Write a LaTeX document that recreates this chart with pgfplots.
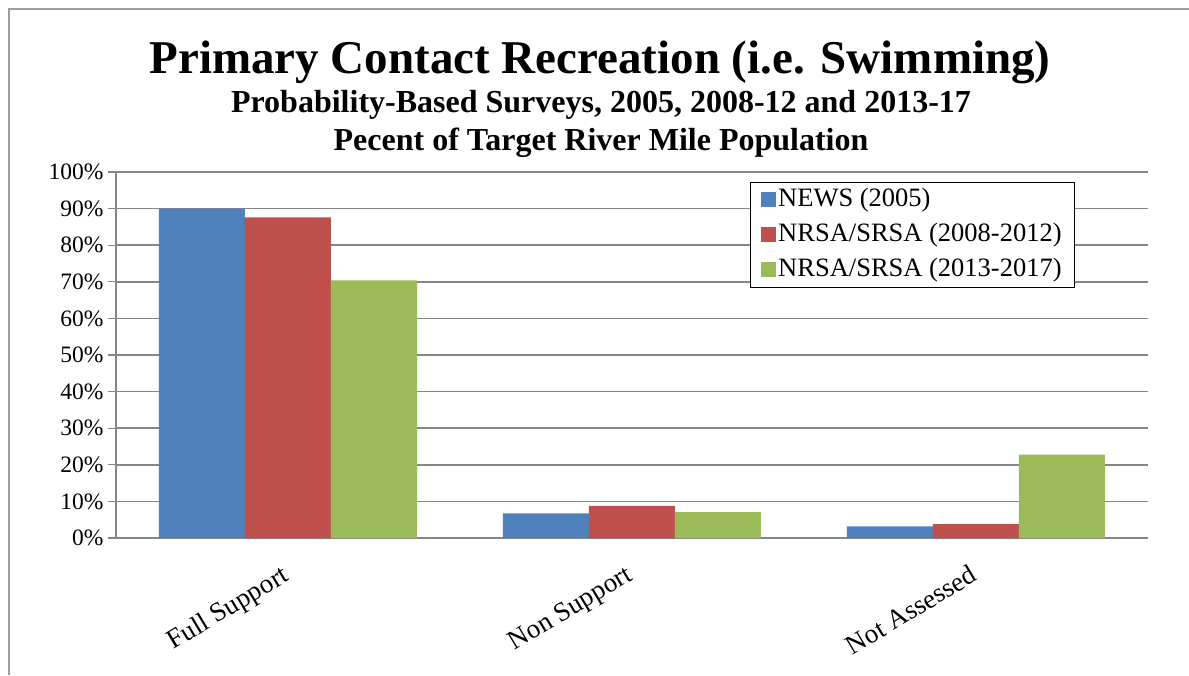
\documentclass[border=0pt]{standalone}
\usepackage{pgfplots}
\pgfplotsset{compat=1.18}
\usepackage{fontspec}
\setmainfont{Liberation Serif}
\definecolor{cblue}{HTML}{4F81BD}
\definecolor{cred}{HTML}{C0504D}
\definecolor{cgreen}{HTML}{9BBB59}
\definecolor{gridgray}{HTML}{868686}
\begin{document}
\begin{tikzpicture}[x=1pt,y=1pt]
\useasboundingbox (0,0) rectangle (1189,675);
\draw[gridgray!80, line width=2pt] (9,0) -- (9,666) -- (1189,666);
\node[anchor=base, font=\fontsize{47}{52}\selectfont\bfseries] at (600,601) {Primary Contact Recreation (i.e. Swimming)};
\node[anchor=base, font=\fontsize{32}{36}\selectfont\bfseries] at (601,562) {Probability-Based Surveys, 2005, 2008-12 and 2013-17};
\node[anchor=base, font=\fontsize{32}{36}\selectfont\bfseries] at (601,524) {Pecent of Target River Mile Population};
\begin{axis}[
  at={(116pt,137pt)}, anchor=south west,
  scale only axis, width=1032pt, height=366pt,
  xmin=-0.5, xmax=2.5, ymin=0, ymax=100,
  ybar=0pt, bar width=86pt,
  axis x line*=bottom, axis y line*=left,
  axis line style={draw=gridgray, line width=1.2pt, -},
  ymajorgrids, grid style={draw=gridgray, line width=1.5pt},
  ytick={0,10,...,100},
  yticklabel={\pgfmathparse{int(\tick)}\pgfmathresult\%},
  yticklabel style={font=\fontsize{23.5}{26}\selectfont, xshift=-1pt},
  xtick={0,1,2},
  xticklabels={Full Support, Non Support, Not Assessed},
  x tick label style={font=\fontsize{27}{30}\selectfont, rotate=31, anchor=north east, yshift=-8pt, xshift=-12pt},
  major x tick style={draw=none},
  extra x ticks={-0.5,0.5,1.5,2.5},
  extra x tick labels={},
  extra x tick style={grid=none, major tick style={draw=gridgray, line width=1.2pt}},
  tick align=outside, major tick length=8pt,
  ytick style={draw=gridgray, line width=1.2pt},
  legend style={at={(rel axis cs:0.614,0.973)}, anchor=north west,
    draw=black, line width=1.2pt, font=\fontsize{26.5}{30}\selectfont,
    row sep=6pt, inner xsep=11pt, inner ysep=3pt,
    nodes={inner sep=2pt, text height=19pt, text depth=6pt, anchor=west}},
  legend cell align=left,
  legend image code/.code={\fill[#1,draw=none] (0pt,-7pt) rectangle (15pt,8pt);},
]
\addplot[fill=cblue, draw=none] coordinates {(0,90.0) (1,6.7) (2,3.2)};
\addplot[fill=cred, draw=none] coordinates {(0,87.6) (1,8.8) (2,3.8)};
\addplot[fill=cgreen, draw=none] coordinates {(0,70.4) (1,7.1) (2,22.8)};
\legend{NEWS (2005), NRSA/SRSA (2008-2012), NRSA/SRSA (2013-2017)}
\end{axis}
\end{tikzpicture}
\end{document}
